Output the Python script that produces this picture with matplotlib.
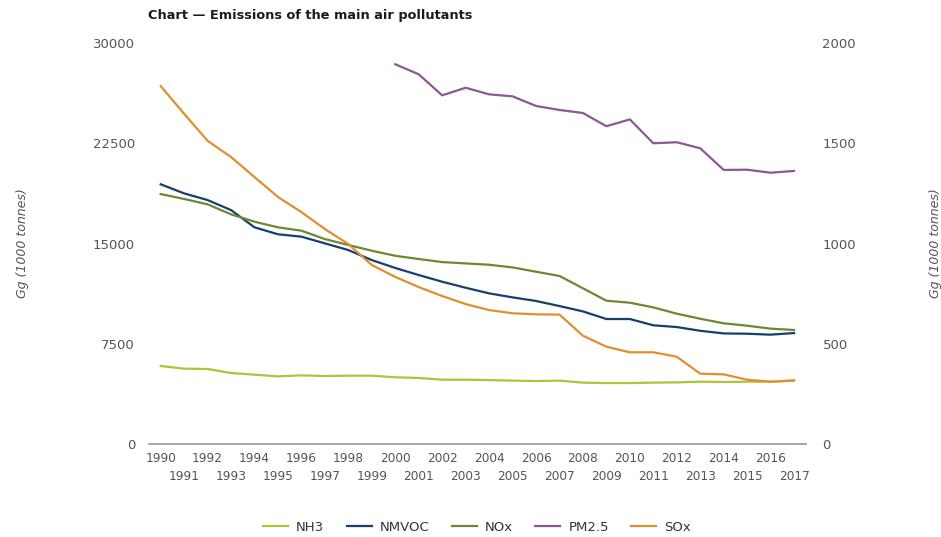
import matplotlib
matplotlib.use("Agg")
import matplotlib.pyplot as plt

years = list(range(1990, 2018))

nh3 = [5835, 5635, 5610, 5310, 5185, 5060, 5135, 5085, 5110, 5110,
       4990, 4940, 4810, 4810, 4780, 4740, 4710, 4740, 4590, 4560,
       4560, 4590, 4610, 4660, 4640, 4660, 4660, 4740]
nmvoc = [19430, 18750, 18250, 17500, 16210, 15690, 15510, 15010, 14510, 13760,
         13170, 12640, 12140, 11690, 11270, 10970, 10700, 10320, 9920, 9350,
         9350, 8880, 8750, 8470, 8270, 8250, 8180, 8300]
nox = [18700, 18330, 17930, 17180, 16630, 16210, 15960, 15330, 14890, 14460,
       14080, 13840, 13610, 13510, 13410, 13210, 12890, 12570, 11650, 10720,
       10570, 10220, 9750, 9370, 9030, 8850, 8630, 8530]
sox = [26780, 24700, 22680, 21470, 19970, 18480, 17350, 16080, 14960, 13390,
       12500, 11740, 11070, 10470, 10020, 9780, 9700, 9680, 8100, 7280,
       6860, 6860, 6530, 5260, 5210, 4810, 4660, 4760]

pm_years = list(range(2000, 2018))
pm25 = [1894, 1844, 1739, 1777, 1744, 1734, 1686, 1666, 1651, 1585,
        1619, 1500, 1505, 1475, 1367, 1368, 1353, 1362]

colors = {
    "NH3": "#b0c436",
    "NMVOC": "#15406e",
    "NOx": "#6d8735",
    "PM2.5": "#8c5893",
    "SOx": "#e08e30",
}

fig = plt.figure(figsize=(9.41, 5.37), dpi=100)
ax = fig.add_axes([0.1583, 0.1732, 0.698, 0.7467])
ax2 = ax.twinx()

lw = 1.6
h1, = ax.plot(years, nh3, color=colors["NH3"], lw=lw, label="NH3")
h2, = ax.plot(years, nmvoc, color=colors["NMVOC"], lw=lw, label="NMVOC")
h3, = ax.plot(years, nox, color=colors["NOx"], lw=lw, label="NOx")
h5, = ax.plot(years, sox, color=colors["SOx"], lw=lw, label="SOx")
h4, = ax2.plot(pm_years, pm25, color=colors["PM2.5"], lw=lw, label="PM2.5")

ax.set_xlim(1989.5, 2017.5)
ax.set_ylim(0, 30000)
ax2.set_ylim(0, 2000)
ax.set_yticks([0, 7500, 15000, 22500, 30000])
ax2.set_yticks([0, 500, 1000, 1500, 2000])

# even years on the first row, odd years on a second row below
even = [y for y in years if y % 2 == 0]
odd = [y for y in years if y % 2 == 1]
ax.set_xticks(even)
ax.set_xticklabels([str(y) for y in even])
ax.set_xticks(odd, minor=True)
ax.set_xticklabels([str(y) for y in odd], minor=True)

grey = "#555555"
ax.tick_params(axis="y", length=0, pad=10, labelsize=9.5, labelcolor=grey)
ax.tick_params(axis="x", which="major", length=0, pad=6, labelsize=8.7, labelcolor=grey)
ax.tick_params(axis="x", which="minor", length=0, pad=19, labelsize=8.7, labelcolor=grey)
ax2.tick_params(axis="y", length=0, pad=12, labelsize=9.5, labelcolor=grey)

for a in (ax, ax2):
    for s in ("top", "left", "right", "bottom"):
        a.spines[s].set_visible(False)
ax.axhline(0, color="#a0a0a0", lw=1.3, clip_on=False)

ax.set_ylabel("Gg (1000 tonnes)", fontsize=9, style="italic", color=grey)
ax2.set_ylabel("Gg (1000 tonnes)", fontsize=9, style="italic", color=grey)
ax.yaxis.set_label_coords(-0.182, 0.5)
ax2.yaxis.set_label_coords(1.187, 0.5)

fig.text(0.157, 0.972, "Chart \u2014 Emissions of the main air pollutants",
         fontsize=9.3, fontweight="bold", color="#1a1a1a", ha="left", va="center")

fig.legend([h1, h2, h3, h4, h5], ["NH3", "NMVOC", "NOx", "PM2.5", "SOx"],
           loc="center", bbox_to_anchor=(0.507, 0.018), ncol=5, frameon=False,
           fontsize=9.5, handlelength=1.9, columnspacing=1.7, handletextpad=0.6,
           labelcolor="#333333")

fig.savefig("out.png", dpi=100)
